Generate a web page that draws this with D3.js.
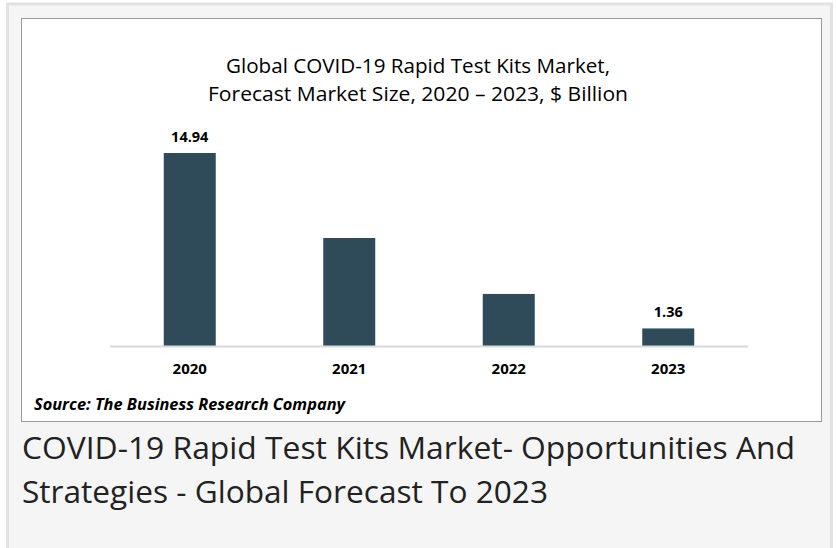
<!DOCTYPE html>
<html><head><meta charset="utf-8">
<script src="https://cdn.jsdelivr.net/npm/d3@7/dist/d3.min.js"></script>
<style>
html,body{margin:0;padding:0;background:#fff;}
</style></head>
<body>
<script>
const categories = ["2020", "2021", "2022", "2023"];
const values = [14.94, 8.36, 4.03, 1.36];
const showLabel = [true, false, false, true];
const titleLines = ["Global COVID-19 Rapid Test Kits Market,", "Forecast Market Size, 2020 \u2013 2023, $ Billion"];
const sourceText = "Source: The Business Research Company";
const headingLines = ["COVID-19 Rapid Test Kits Market- Opportunities And", "Strategies - Global Forecast To 2023"];

const W = 836, H = 548;
const svg = d3.select("body").append("svg").attr("width", W).attr("height", H);

// outer card
svg.append("rect").attr("x", 7.5).attr("y", 4).attr("width", 824).attr("height", 560)
  .attr("fill", "#f5f5f5").attr("stroke", "#e2e2e2").attr("stroke-width", 3);
// inner chart box
svg.append("rect").attr("x", 21.5).attr("y", 18.5).attr("width", 800).attr("height", 403)
  .attr("fill", "#fff").attr("stroke", "#9a9a9a").attr("stroke-width", 1);

const font = "'Open Sans', sans-serif";
const titleWidths = [384, 420];

svg.append("g").selectAll("text").data(titleLines).join("text")
  .attr("x", 418).attr("y", (d, i) => 73 + i * 28)
  .attr("text-anchor", "middle").attr("font-family", font).attr("font-size", 20)
  .attr("textLength", (d, i) => titleWidths[i]).attr("lengthAdjust", "spacingAndGlyphs")
  .attr("fill", "#000").text(d => d);

const x = d3.scaleBand().domain(categories).range([110, 748]).paddingInner(0.674).paddingOuter(0.337);
const y = d3.scaleLinear().domain([0, 14.94]).range([346, 153]);

svg.append("g").selectAll("rect").data(values).join("rect")
  .attr("x", (d, i) => x(categories[i])).attr("width", x.bandwidth())
  .attr("y", d => y(d)).attr("height", d => y(0) - y(d))
  .attr("fill", "#2f4b5a");

svg.append("line").attr("x1", 110).attr("x2", 748).attr("y1", y(0) + 0.5).attr("y2", y(0) + 0.5)
  .attr("stroke", "#d9d9d9").attr("stroke-width", 2);

const xAxis = svg.append("g").attr("transform", `translate(0,${y(0)})`)
  .call(d3.axisBottom(x).tickSize(0).tickPadding(17));
xAxis.select(".domain").remove();
xAxis.selectAll("text").attr("font-family", font).attr("font-size", 15).attr("font-weight", "bold").attr("fill", "#000");

svg.append("g").selectAll("text").data(values).join("text")
  .filter((d, i) => showLabel[i])
  .attr("x", (d, i) => x(categories[values.indexOf(d)]) + x.bandwidth() / 2)
  .attr("y", d => y(d) - 11)
  .attr("text-anchor", "middle").attr("font-family", font).attr("font-size", 14.5).attr("font-weight", "bold")
  .attr("fill", "#000").text(d => d.toFixed(2));

svg.append("text").attr("x", 34).attr("y", 410).attr("font-family", font).attr("font-size", 16)
  .attr("font-weight", "bold").attr("font-style", "italic").attr("fill", "#000")
  .attr("textLength", 311).attr("lengthAdjust", "spacingAndGlyphs").text(sourceText);

const headingWidths = [773, 526];
svg.append("g").selectAll("text").data(headingLines).join("text")
  .attr("x", 22).attr("y", (d, i) => 459 + i * 44)
  .attr("font-family", font).attr("font-size", 31).attr("fill", "#222")
  .attr("textLength", (d, i) => headingWidths[i]).attr("lengthAdjust", "spacingAndGlyphs")
  .text(d => d);
</script>
</body></html>
